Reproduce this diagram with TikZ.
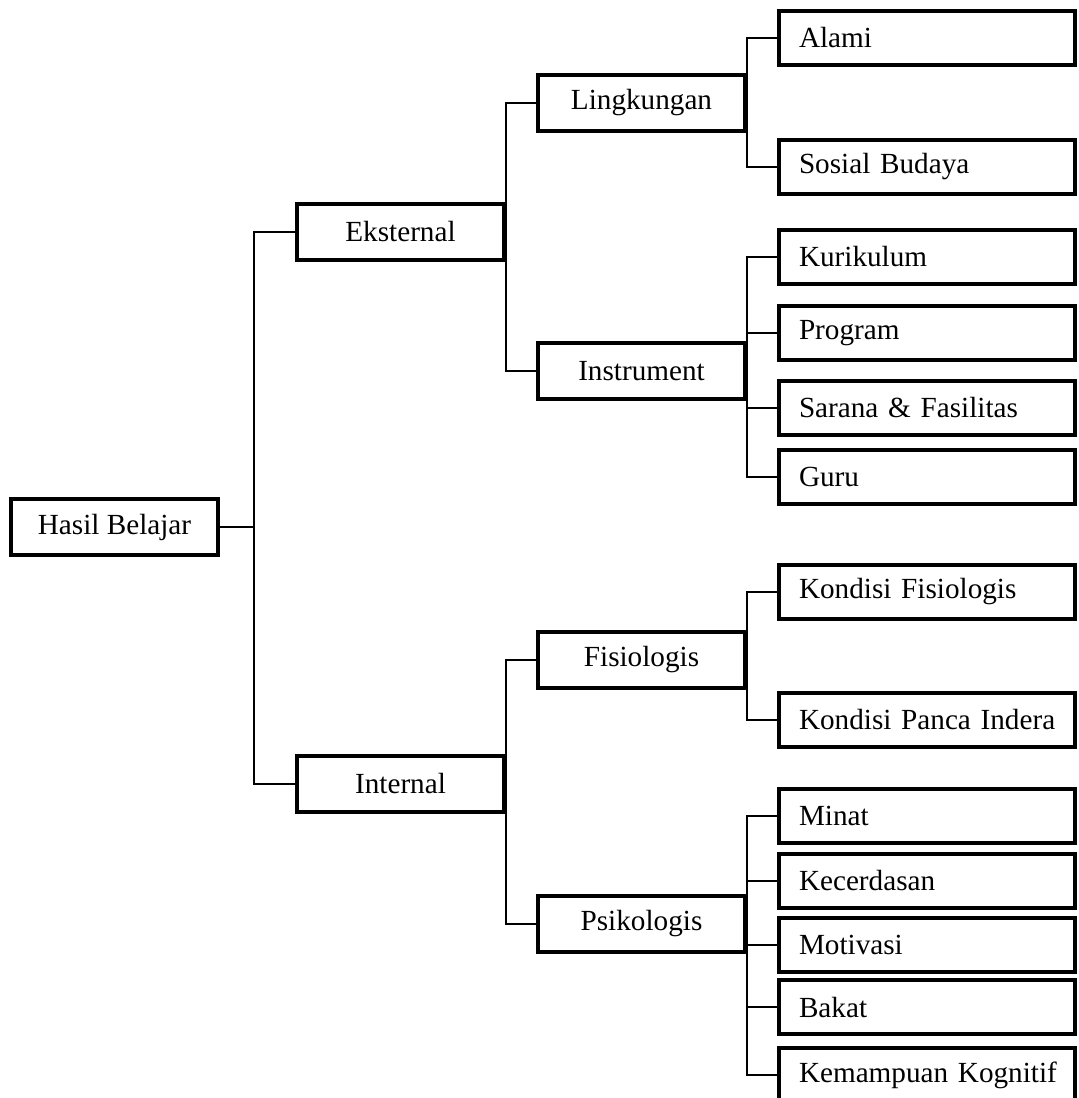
\documentclass[tikz,border=0pt]{standalone}
\usepackage{fontspec}
\setmainfont{Liberation Serif}

\begin{document}
\begin{tikzpicture}[x=0.5pt,y=-0.5pt,
    midbox/.style={draw,line width=2pt,minimum width=103.5pt,minimum height=28pt,
        inner sep=0pt,font=\fontsize{14.6}{17}\selectfont},
    leafbox/.style={draw,line width=2pt,anchor=west,text width=148pt,inner xsep=0pt,
        inner ysep=0pt,minimum height=27pt,align=left,font=\fontsize{14.6}{17}\selectfont,
        execute at begin node={\hspace*{10pt}}},
    link/.style={line width=0.65pt}]
\clip (0,0) rectangle (1078,1098);
% root and first level
\node[midbox] (hasil) at (114.5,527) {Hasil Belajar};
\node[midbox] (eks) at (400.5,232) {Eksternal};
\node[midbox] (int) at (400.5,784) {Internal};
\coordinate (spine) at (254,527);
%
% second level
\node[midbox] (ling) at (641.5,103) {Lingkungan};
\node[midbox] (instr) at (641.5,371) {Instrument};
\node[midbox] (fis) at (641.5,660) {Fisiologis};
\node[midbox] (psi) at (641.5,924) {Psikologis};
%%%%%%%%%%%%%%%%%%%%%%%%%%%%%%%%%%%%%
% leaves
\node[leafbox] (alami) at (777,38) {Alami};
\node[leafbox] (sosial) at (777,167) {Sosial Budaya};
\node[leafbox] (kuri) at (777,257) {Kurikulum};
\node[leafbox] (prog) at (777,333) {Program};
\node[leafbox] (sarana) at (777,408) {Sarana \& Fasilitas};
\node[leafbox] (guru) at (777,477) {Guru};
\node[leafbox] (kfis) at (777,592) {Kondisi Fisiologis};
\node[leafbox] (kpi) at (777,720) {Kondisi Panca Indera};
\node[leafbox] (minat) at (777,816) {Minat};
\node[leafbox] (kecer) at (777,881) {Kecerdasan};
\node[leafbox] (motiv) at (777,945) {Motivasi};
\node[leafbox] (bakat) at (777,1007) {Bakat};
\node[leafbox] (kogn) at (777,1075) {Kemampuan Kognitif};
%%%%%%%%%%%%%%%%%%%%%%%%%%%%%%%%%%%%%
% connectors
\draw[link] (hasil.east) -- (spine);
\draw[link] (eks.west) -| (spine) |- (int.west);
\draw[link] (ling.west) -| (eks.east) |- (instr.west);
\draw[link] (fis.west) -| (int.east) |- (psi.west);
%
\draw[link] (alami.west) -| (ling.east) |- (sosial.west);
\draw[link] (kuri.west) -| (instr.east) |- (guru.west);
\foreach \k in {prog,sarana}
    \draw[link] (\k.west) -- (\k.west -| instr.east);
\draw[link] (kfis.west) -| (fis.east) |- (kpi.west);
\draw[link] (minat.west) -| (psi.east) |- (kogn.west);
\foreach \k in {kecer,motiv,bakat}
    \draw[link] (\k.west) -- (\k.west -| psi.east);
\end{tikzpicture}
\end{document}
